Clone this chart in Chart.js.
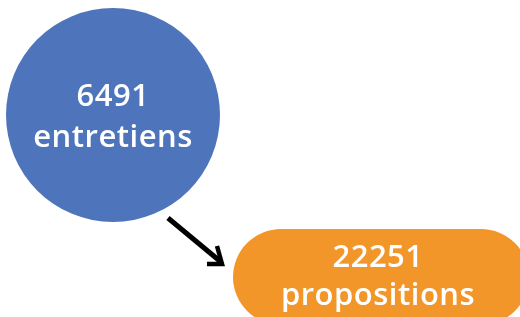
<!DOCTYPE html>
<html>
<head>
<meta charset="utf-8">
<script src="https://cdn.jsdelivr.net/npm/chart.js@4/dist/chart.umd.min.js"></script>
<style>
  html, body { margin: 0; padding: 0; background: #fff; }
  canvas { display: block; }
</style>
</head>
<body>
<canvas id="chart" width="520" height="317"></canvas>
<script>
// values shown in the diagram
const values = [6491, 22251];
const labels = ["entretiens", "propositions"];

// diagram layout (x, y in pixel-like units on hidden axes)
const circlePos = { x: 113, y: 115, r: 107 };
const pillPath = [{ x: 281, y: 277 }, { x: 481, y: 277 }];
const arrowShaft = [{ x: 168, y: 218 }, { x: 221, y: 262 }];
const arrowHead = [{ x: 217, y: 246 }, { x: 222, y: 264 }, { x: 207, y: 264 }];
// text anchors: [x, baseline of number, baseline of label]
const circleText = [113, 106, 147];
const pillText = [378, 267, 305];

const textPlugin = {
  id: "centerText",
  afterDatasetsDraw(c) {
    const ctx = c.ctx;
    const xs = c.scales.x, ys = c.scales.y;
    ctx.save();
    ctx.fillStyle = "#fff";
    ctx.textAlign = "center";
    ctx.textBaseline = "alphabetic";
    ctx.font = "600 31px 'Open Sans'";
    ctx.letterSpacing = "0.5px";
    [circleText, pillText].forEach((t, i) => {
      const x = xs.getPixelForValue(t[0]);
      ctx.fillText(String(values[i]), x, ys.getPixelForValue(t[1]));
      ctx.fillText(labels[i], x, ys.getPixelForValue(t[2]));
    });
    ctx.restore();
  }
};

new Chart(document.getElementById("chart"), {
  type: "scatter",
  data: {
    datasets: [
      {
        type: "line",
        data: pillPath,
        borderColor: "#f3962a",
        borderWidth: 96,
        borderCapStyle: "round",
        pointRadius: 0,
        clip: false
      },
      {
        type: "bubble",
        data: [circlePos],
        backgroundColor: "#4e75bb",
        borderWidth: 0,
        hoverRadius: 0,
        clip: false
      },
      {
        type: "line",
        data: arrowShaft,
        borderColor: "#000",
        borderWidth: 5,
        borderCapStyle: "butt",
        pointRadius: 0,
        clip: false
      },
      {
        type: "line",
        data: arrowHead,
        borderColor: "#000",
        borderWidth: 4.5,
        borderCapStyle: "butt",
        borderJoinStyle: "miter",
        pointRadius: 0,
        clip: false
      }
    ]
  },
  options: {
    responsive: false,
    animation: false,
    events: [],
    layout: { padding: 0, autoPadding: false },
    plugins: { legend: { display: false }, tooltip: { enabled: false } },
    scales: {
      x: { type: "linear", min: 0, max: 520, display: false },
      y: { type: "linear", min: 0, max: 317, reverse: true, display: false }
    }
  },
  plugins: [textPlugin]
});
</script>
</body>
</html>
